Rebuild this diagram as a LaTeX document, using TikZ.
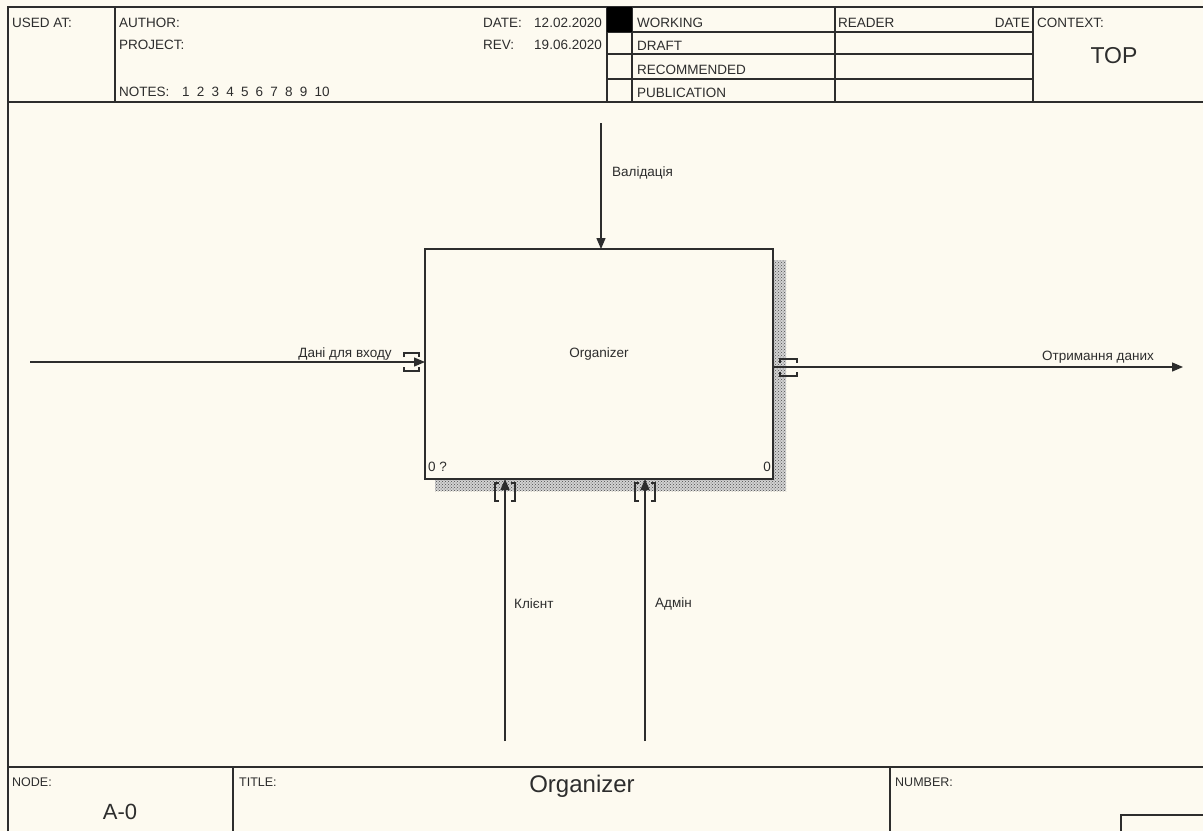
\documentclass[tikz,border=0pt]{standalone}
\usepackage{fontspec}
\setmainfont{Liberation Sans}
\usetikzlibrary{patterns,arrows.meta}
\definecolor{bg}{RGB}{253,250,240}
\definecolor{ink}{RGB}{45,45,45}
\begin{document}
\begin{tikzpicture}[x=1pt,y=-1pt,
  frame/.style={draw=ink,line width=1.4pt},
  rule/.style={draw=ink,line width=1.1pt},
  txt/.style={font=\fontsize{13.5}{14}\selectfont,text=ink,inner sep=0pt},
  big/.style={font=\fontsize{23}{24}\selectfont,text=ink,inner sep=0pt},
  arr/.style={draw=ink,line width=1.3pt,-{Triangle[length=11pt,width=9pt]}},
  tun/.style={draw=ink,line width=1.2pt},
  shade/.style={fill=gray!35,postaction={pattern=crosshatch dots,pattern color=black!70}},
]
\fill[bg] (0,0) rectangle (1203,831);
\useasboundingbox (0,0) rectangle (1203,831);

% ---------- header ----------
\draw[frame] (8,831) -- (8,7) -- (1203,7);
\draw[frame] (8,102) -- (1203,102);
\foreach \xx in {115,607,632,835,1033} \draw[rule] (\xx,7) -- (\xx,102);
\foreach \yy in {32,54,79} \draw[rule] (607,\yy) -- (1033,\yy);
\fill[black] (607,7) rectangle (632,32);

\node[txt,anchor=west] (usedat) at (12,23) {USED AT:};
\node[txt,anchor=west] (author) at (119,23) {AUTHOR:};
\node[txt,anchor=west] (project) at (119,45) {PROJECT:};
\node[txt,anchor=west] (notes) at (119,92) {NOTES:};
\foreach \i in {1,...,10} \node[txt,anchor=west] (n\i) at ({182+14.7*(\i-1)},92) {\i};
\node[txt,anchor=west] (datel) at (483,23) {DATE:};
\node[txt,anchor=east] (datev) at (602,23) {12.02.2020};
\node[txt,anchor=west] (revl) at (483,45) {REV:};
\node[txt,anchor=east] (revv) at (602,45) {19.06.2020};
\node[txt,anchor=west] (working) at (637,23) {WORKING};
\node[txt,anchor=west] (draft) at (637,46) {DRAFT};
\node[txt,anchor=west] (recom) at (637,70) {RECOMMENDED};
\node[txt,anchor=west] (publ) at (637,93) {PUBLICATION};
\node[txt,anchor=west] (reader) at (838,23) {READER};
\node[txt,anchor=east] (rdate) at (1030,23) {DATE};
\node[txt,anchor=west] (context) at (1037,23) {CONTEXT:};
\node[big] (top) at (1114,56) {TOP};

% ---------- activity box ----------
\path[shade] (773,260) rectangle (786,491);
\path[shade] (435,479) rectangle (773,491);
\node[draw=ink,line width=1.5pt,fill=bg,minimum width=348pt,minimum height=230pt,inner sep=0pt,outer sep=0pt] (box) at (599,364) {};
\node[txt] (boxlbl) at (599,354) {Organizer};
\node[txt,anchor=west] (num1) at (428,467) {0 ?};
\node[txt,anchor=east] (num2) at (771,467) {0};

% ---------- arrows ----------
\coordinate (inS) at (30,362);
\draw[arr] (inS) -- (inS -| box.west);
\node[txt] (inlbl) at (345,354) {Дані для входу};
\draw[tun] (404,357) -- (404,353) -- (419,353) -- (419,357);
\draw[tun] (404,367) -- (404,371) -- (419,371) -- (419,367);

\coordinate (outE) at (1183,367);
\draw[arr] (outE -| box.east) -- (outE);
\node[txt] (outlbl) at (1098,357) {Отримання даних};
\draw[tun] (780,363) -- (780,359) -- (797,359) -- (797,363);
\draw[tun] (780,372) -- (780,376) -- (797,376) -- (797,372);

\coordinate (ctlS) at (601,123);
\draw[arr] (ctlS) -- (ctlS |- box.north);
\node[txt,anchor=west] (ctllbl) at (612,173) {Валідація};

\coordinate (m1) at (505,741);
\draw[arr] (m1) -- (m1 |- box.south);
\node[txt,anchor=west] (m1lbl) at (514,604) {Клієнт};
\draw[tun] (499,483) -- (495,483) -- (495,501) -- (499,501);
\draw[tun] (511,483) -- (515,483) -- (515,501) -- (511,501);

\coordinate (m2) at (645,741);
\draw[arr] (m2) -- (m2 |- box.south);
\node[txt,anchor=west] (m2lbl) at (655,604) {Адмін};
\draw[tun] (639,483) -- (635,483) -- (635,501) -- (639,501);
\draw[tun] (651,483) -- (655,483) -- (655,501) -- (651,501);

% ---------- footer ----------
\draw[frame] (8,767) -- (1203,767);
\draw[rule] (233,767) -- (233,831);
\draw[rule] (890,767) -- (890,831);
\draw[rule] (1121,831) -- (1121,815) -- (1203,815);
\node[txt,anchor=west,font=\fontsize{12.5}{13}\selectfont] (nodel) at (12,782) {NODE:};
\node[big,font=\fontsize{22}{23}\selectfont] (nodev) at (120,812) {A-0};
\node[txt,anchor=west,font=\fontsize{12.5}{13}\selectfont] (titlel) at (239,782) {TITLE:};
\node[big,font=\fontsize{24}{25}\selectfont] (titlev) at (582,786) {Organizer};
\node[txt,anchor=west,font=\fontsize{12.5}{13}\selectfont] (numl) at (895,782) {NUMBER:};
\end{tikzpicture}
\end{document}
